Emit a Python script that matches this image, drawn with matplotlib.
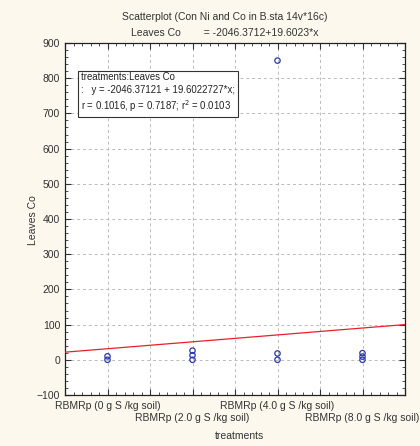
import matplotlib
matplotlib.use("Agg")
import matplotlib.pyplot as plt
from matplotlib.ticker import MultipleLocator

categories = ["RBMRp (0 g S /kg soil)", "RBMRp (2.0 g S /kg soil)",
              "RBMRp (4.0 g S /kg soil)", "RBMRp (8.0 g S /kg soil)"]
codes = [106, 107, 108, 109]
leaves_co = [
    [0, 10],
    [0, 13, 26],
    [0, 18, 850],
    [0, 9, 19],
]
intercept = -2046.3712
slope = 19.6023

plt.rcParams["font.family"] = ["Liberation Sans", "DejaVu Sans"]
bg = "#fcf8ee"

fig = plt.figure(figsize=(4.2, 4.46), dpi=100, facecolor=bg)
ax = fig.add_axes([65 / 420, 1 - 395 / 446, 340 / 420, 352 / 446])
ax.set_facecolor("white")

ax.set_xlim(-0.5, 3.5)
ax.set_ylim(-100, 900)

# regression line over the full x range
xs = [ax.get_xlim()[0], ax.get_xlim()[1]]
ys = [intercept + slope * (codes[0] + x) for x in xs]
ax.plot(xs, ys, color="#e8202a", lw=0.9, zorder=3)

for i, vals in enumerate(leaves_co):
    ax.scatter([i] * len(vals), vals, s=15, facecolors="none",
               edgecolors="#2b36a8", linewidths=0.9, zorder=4)

ax.xaxis.set_major_locator(MultipleLocator(0.5))
ax.yaxis.set_major_locator(MultipleLocator(100))
ax.yaxis.set_minor_locator(MultipleLocator(20))
ax.xaxis.set_minor_locator(MultipleLocator(0.1))
ax.grid(True, which="major", color="#bbbbbb", ls=(0, (3, 3)), lw=0.7)
ax.tick_params(which="both", direction="in", top=True, right=True,
               labelbottom=False, colors="#333333")
ax.tick_params(which="major", length=4, labelsize=7.5, labelcolor="#333333")
ax.tick_params(which="minor", length=2)
for sp in ax.spines.values():
    sp.set_color("#222222")
    sp.set_linewidth(0.9)

for i, lab in enumerate(categories):
    yoff = -0.03 if i % 2 == 0 else -0.065
    ax.text(i, yoff, lab, transform=ax.get_xaxis_transform(), ha="center",
            va="center", fontsize=7.5, color="#333333", clip_on=False)

fig.text(240 / 420, 1 - 436 / 446, "treatments", ha="center", va="center",
         fontsize=7.5, color="#333333")
fig.text(33 / 420, 1 - 220 / 446, "Leaves Co", rotation=90, ha="center",
         va="center", fontsize=7.5, color="#333333")

fig.text(225 / 420, 1 - 17 / 446, "Scatterplot (Con Ni and Co in B.sta 14v*16c)",
         ha="center", va="center", fontsize=7.5, color="#333333")
fig.text(225 / 420, 1 - 33 / 446, "Leaves Co        = -2046.3712+19.6023*x",
         ha="center", va="center", fontsize=7.5, color="#333333")

box_text = ("treatments:Leaves Co\n"
            ":   y = -2046.37121 + 19.6022727*x;\n"
            "r = 0.1016, p = 0.7187; r$^2$ = 0.0103")
ax.text(81 / 420, 1 - 93 / 446, box_text, transform=fig.transFigure,
        ha="left", va="center", fontsize=6.9, color="#222222",
        linespacing=1.3,
        bbox=dict(boxstyle="square,pad=0.35", fc="white", ec="#333333", lw=0.8))

fig.savefig("out.png", dpi=100, facecolor=bg)
